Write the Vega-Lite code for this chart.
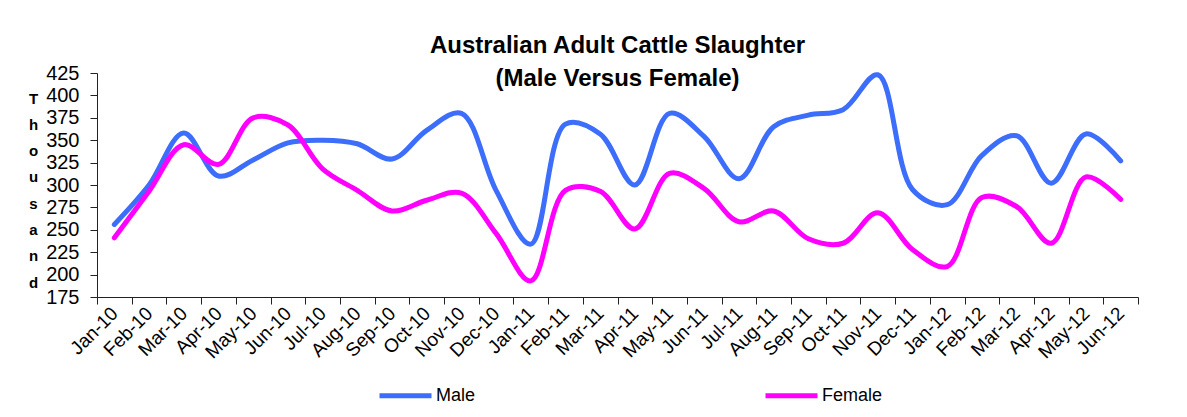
{
  "$schema": "https://vega.github.io/schema/vega-lite/v6.json",
  "width": 1041,
  "height": 224,
  "autosize": {"type": "none"},
  "padding": {"left": 97, "top": 73, "right": 49, "bottom": 120},
  "background": "white",
  "config": {
    "font": "Liberation Sans",
    "view": {"stroke": null}
  },
  "title": {
    "text": ["Australian Adult Cattle Slaughter", "(Male Versus Female)"],
    "fontSize": 24,
    "fontWeight": "bold",
    "lineHeight": 33,
    "anchor": "middle",
    "offset": -28,
    "color": "black",
    "font": "Liberation Sans"
  },
  "data": {
    "values": [
      {"month": "Jan-10", "sex": "Male", "value": 256},
      {"month": "Feb-10", "sex": "Male", "value": 300},
      {"month": "Mar-10", "sex": "Male", "value": 358},
      {"month": "Apr-10", "sex": "Male", "value": 310},
      {"month": "May-10", "sex": "Male", "value": 328},
      {"month": "Jun-10", "sex": "Male", "value": 347},
      {"month": "Jul-10", "sex": "Male", "value": 350},
      {"month": "Aug-10", "sex": "Male", "value": 346},
      {"month": "Sep-10", "sex": "Male", "value": 329},
      {"month": "Oct-10", "sex": "Male", "value": 361},
      {"month": "Nov-10", "sex": "Male", "value": 380},
      {"month": "Dec-10", "sex": "Male", "value": 294},
      {"month": "Jan-11", "sex": "Male", "value": 234},
      {"month": "Feb-11", "sex": "Male", "value": 368},
      {"month": "Mar-11", "sex": "Male", "value": 357},
      {"month": "Apr-11", "sex": "Male", "value": 300},
      {"month": "May-11", "sex": "Male", "value": 380},
      {"month": "Jun-11", "sex": "Male", "value": 354},
      {"month": "Jul-11", "sex": "Male", "value": 307},
      {"month": "Aug-11", "sex": "Male", "value": 365},
      {"month": "Sep-11", "sex": "Male", "value": 378},
      {"month": "Oct-11", "sex": "Male", "value": 384},
      {"month": "Nov-11", "sex": "Male", "value": 423},
      {"month": "Dec-11", "sex": "Male", "value": 295},
      {"month": "Jan-12", "sex": "Male", "value": 278},
      {"month": "Feb-12", "sex": "Male", "value": 333},
      {"month": "Mar-12", "sex": "Male", "value": 355},
      {"month": "Apr-12", "sex": "Male", "value": 302},
      {"month": "May-12", "sex": "Male", "value": 357},
      {"month": "Jun-12", "sex": "Male", "value": 327},
      {"month": "Jan-10", "sex": "Female", "value": 241},
      {"month": "Feb-10", "sex": "Female", "value": 293},
      {"month": "Mar-10", "sex": "Female", "value": 345},
      {"month": "Apr-10", "sex": "Female", "value": 323},
      {"month": "May-10", "sex": "Female", "value": 375},
      {"month": "Jun-10", "sex": "Female", "value": 367},
      {"month": "Jul-10", "sex": "Female", "value": 318},
      {"month": "Aug-10", "sex": "Female", "value": 294},
      {"month": "Sep-10", "sex": "Female", "value": 271},
      {"month": "Oct-10", "sex": "Female", "value": 283},
      {"month": "Nov-10", "sex": "Female", "value": 291},
      {"month": "Dec-10", "sex": "Female", "value": 246},
      {"month": "Jan-11", "sex": "Female", "value": 193},
      {"month": "Feb-11", "sex": "Female", "value": 294},
      {"month": "Mar-11", "sex": "Female", "value": 293},
      {"month": "Apr-11", "sex": "Female", "value": 251},
      {"month": "May-11", "sex": "Female", "value": 313},
      {"month": "Jun-11", "sex": "Female", "value": 296},
      {"month": "Jul-11", "sex": "Female", "value": 259},
      {"month": "Aug-11", "sex": "Female", "value": 271},
      {"month": "Sep-11", "sex": "Female", "value": 240},
      {"month": "Oct-11", "sex": "Female", "value": 235},
      {"month": "Nov-11", "sex": "Female", "value": 269},
      {"month": "Dec-11", "sex": "Female", "value": 228},
      {"month": "Jan-12", "sex": "Female", "value": 209},
      {"month": "Feb-12", "sex": "Female", "value": 286},
      {"month": "Mar-12", "sex": "Female", "value": 276},
      {"month": "Apr-12", "sex": "Female", "value": 235},
      {"month": "May-12", "sex": "Female", "value": 309},
      {"month": "Jun-12", "sex": "Female", "value": 284}
    ]
  },
  "mark": {"type": "line", "interpolate": "catmull-rom", "strokeWidth": 5, "strokeCap": "round"},
  "encoding": {
    "x": {
      "field": "month",
      "type": "ordinal",
      "sort": null,
      "bandPosition": 0.5,
      "scale": {"type": "band", "paddingInner": 0, "paddingOuter": 0},
      "axis": {
        "title": null,
        "labelAngle": -45,
        "labelAlign": "right",
        "labelBaseline": "middle",
        "labelFontSize": 19,
        "labelColor": "black",
        "labelPadding": 6,
        "tickBand": "extent",
        "tickSize": 7,
        "tickColor": "#222",
        "domainColor": "#222",
        "grid": false
      }
    },
    "y": {
      "field": "value",
      "type": "quantitative",
      "scale": {"domain": [175, 425], "nice": false, "zero": false},
      "axis": {
        "values": [175, 200, 225, 250, 275, 300, 325, 350, 375, 400, 425],
        "grid": false,
        "tickSize": 7,
        "tickColor": "#222",
        "domainColor": "#222",
        "labelFontSize": 20,
        "labelColor": "black",
        "labelPadding": 11,
        "title": ["T", "h", "o", "u", "s", "a", "n", "d"],
        "titleAngle": 0,
        "titleFontSize": 15,
        "titleFontWeight": "bold",
        "titleLineHeight": 26.3,
        "titleAlign": "center",
        "titleBaseline": "middle",
        "titleX": -64,
        "titleY": 25,
        "titleColor": "black"
      }
    },
    "color": {
      "field": "sex",
      "type": "nominal",
      "scale": {"domain": ["Male", "Female"], "range": ["#3d6dfb", "#ff00ff"]},
      "legend": {
        "title": null,
        "orient": "none",
        "legendX": 280,
        "legendY": 294,
        "direction": "horizontal",
        "symbolType": "stroke",
        "symbolStrokeWidth": 5,
        "symbolSize": 2704,
        "labelFontSize": 18,
        "labelColor": "black",
        "labelOffset": 2,
        "columnPadding": 279
      }
    }
  }
}
